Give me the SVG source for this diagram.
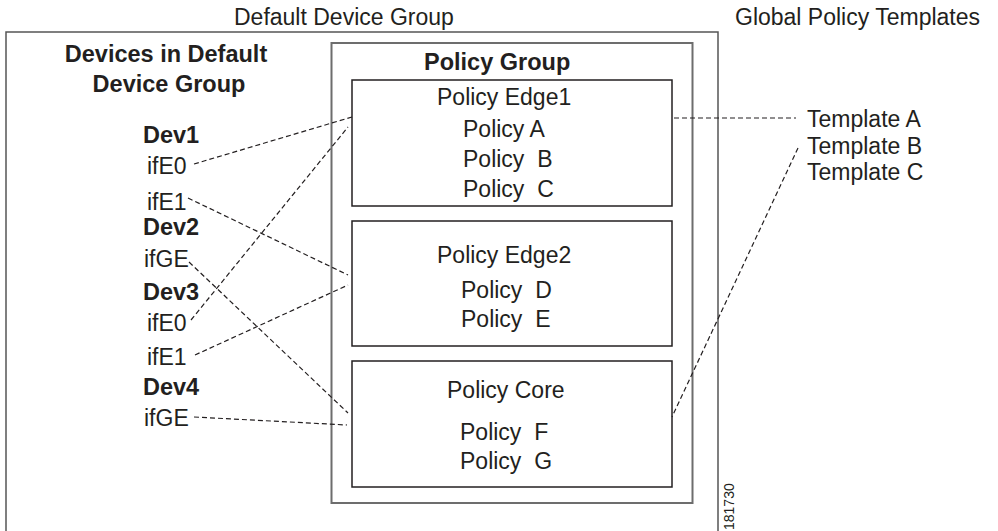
<svg xmlns="http://www.w3.org/2000/svg" width="998" height="531" viewBox="0 0 998 531">
<style>
text{font-family:"Liberation Sans",Arial,sans-serif;font-size:23px;fill:#231f20;white-space:pre}
.b{font-weight:bold;font-size:23.5px}
.frame{fill:none;stroke:#555;stroke-width:1.5}
.grp{fill:none;stroke:#6d6d6d;stroke-width:2}
.box{fill:#fff;stroke:#231f20;stroke-width:1.5}
.con{fill:none;stroke:#231f20;stroke-width:1.2;stroke-dasharray:5 3}
</style>
<rect width="998" height="531" fill="#fff"/>
<g id="default-device-group">
<rect class="frame" x="6" y="32" width="712" height="520"/>
<text x="234" y="25">Default Device Group</text>
</g>
<g id="global-policy-templates">
<text x="735" y="25">Global Policy Templates</text>
</g>
<g id="devices">
<text class="b" x="166" y="62" text-anchor="middle">Devices in Default</text>
<text class="b" x="169" y="92" text-anchor="middle">Device Group</text>
</g>
<g id="dev1">
<text class="b" x="143" y="143">Dev1</text>
<text x="147" y="174">ifE0</text>
<text x="147" y="210">ifE1</text>
</g>
<g id="dev2">
<text class="b" x="143" y="235">Dev2</text>
<text x="144" y="267">ifGE</text>
</g>
<g id="dev3">
<text class="b" x="143" y="300">Dev3</text>
<text x="147" y="331">ifE0</text>
<text x="147" y="365">ifE1</text>
</g>
<g id="dev4">
<text class="b" x="143" y="395">Dev4</text>
<text x="144" y="426">ifGE</text>
</g>
<g id="policy-group">
<rect class="grp" x="331.5" y="43" width="361" height="460"/>
<text class="b" x="424" y="70">Policy Group</text>
</g>
<g id="policy-edge1">
<rect class="box" x="352" y="80" width="320" height="126"/>
<text x="437" y="105">Policy Edge1</text>
<text x="463" y="137">Policy A</text>
<text x="463" y="167">Policy  B</text>
<text x="463" y="197">Policy  C</text>
</g>
<g id="policy-edge2">
<rect class="box" x="352" y="221" width="320" height="125"/>
<text x="437" y="263">Policy Edge2</text>
<text x="461" y="298">Policy  D</text>
<text x="461" y="327">Policy  E</text>
</g>
<g id="policy-core">
<rect class="box" x="352" y="361" width="320" height="126"/>
<text x="447" y="398">Policy Core</text>
<text x="460" y="440">Policy  F</text>
<text x="460" y="469">Policy  G</text>
</g>
<g id="templates">
<text x="807" y="127">Template A</text>
<text x="807" y="154">Template B</text>
<text x="807" y="180">Template C</text>
</g>
<g id="connectors">
<line class="con" x1="194" y1="164" x2="352" y2="117"/>
<line class="con" x1="188" y1="198" x2="348" y2="275"/>
<line class="con" x1="189" y1="262" x2="348" y2="413"/>
<line class="con" x1="191" y1="320" x2="348" y2="127"/>
<line class="con" x1="195" y1="355" x2="348" y2="285"/>
<line class="con" x1="194" y1="417" x2="347" y2="425"/>
<line class="con" x1="674" y1="118" x2="796" y2="118"/>
<line class="con" x1="798" y1="148" x2="672" y2="417"/>
</g>
<g id="figure-number">
<text x="734" y="530" transform="rotate(-90 734 530)" style="font-size:14px">181730</text>
</g>
</svg>
